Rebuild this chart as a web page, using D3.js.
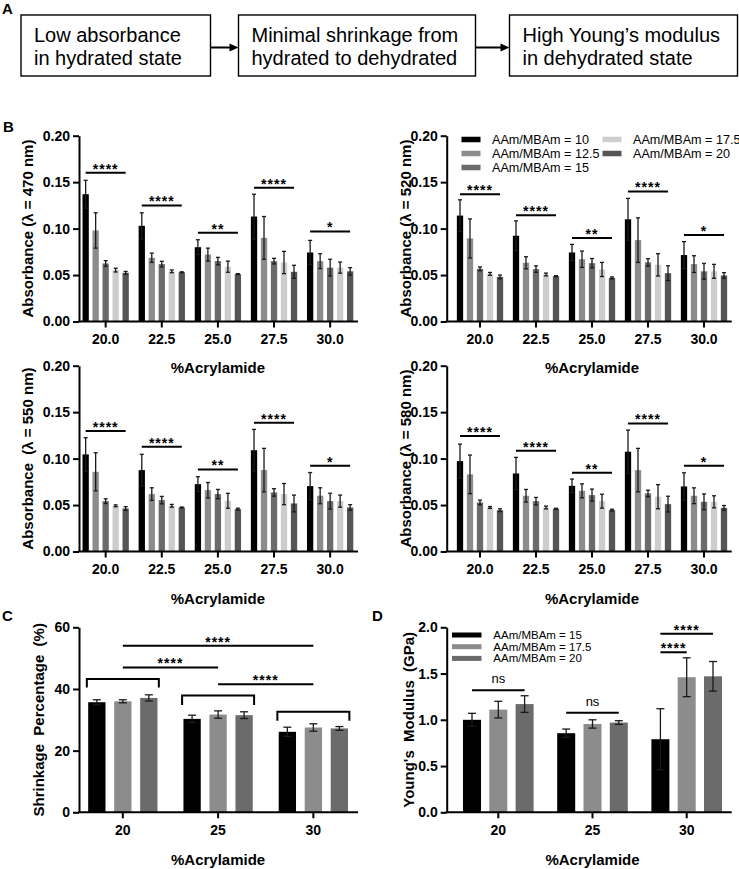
<!DOCTYPE html>
<html><head><meta charset="utf-8">
<script src="https://cdn.jsdelivr.net/npm/d3@7"></script>
<style>body{margin:0;background:#fff}svg{display:block}text{font-family:"Liberation Sans",Arial,sans-serif}</style>
</head><body>
<script>
// ---------------- DATA ----------------
const groupsB = ["20.0","22.5","25.0","27.5","30.0"];
const seriesB = ["AAm/MBAm = 10","AAm/MBAm = 12.5","AAm/MBAm = 15","AAm/MBAm = 17.5","AAm/MBAm = 20"];
const colorsB = ["#000000","#8c8c8c","#6b6b6b","#cdcdcd","#555555"];
const ticksB = [0,0.05,0.10,0.15,0.20];

const abs470 = [[0.137,0.098,0.0625,0.0553,0.0524],[0.103,0.0686,0.0618,0.054,0.053],[0.080,0.072,0.065,0.059,0.051],[0.113,0.090,0.065,0.0635,0.0535],[0.0743,0.065,0.058,0.058,0.054]];
const err470 = [[0.015,0.019,0.003,0.002,0.0015],[0.014,0.005,0.003,0.0015,0.0005],[0.008,0.007,0.004,0.006,0.0005],[0.024,0.023,0.003,0.012,0.007],[0.013,0.008,0.009,0.006,0.004]];
const abs520 = [[0.114,0.0894,0.0567,0.0513,0.048],[0.0923,0.0632,0.0564,0.0506,0.0488],[0.0743,0.067,0.0628,0.056,0.047],[0.110,0.0876,0.0636,0.061,0.052],[0.0715,0.0618,0.054,0.054,0.0496]];
const err520 = [[0.017,0.021,0.002,0.0015,0.002],[0.016,0.0065,0.0035,0.0015,0.0005],[0.0087,0.0088,0.005,0.0076,0.001],[0.0225,0.024,0.004,0.012,0.008],[0.0145,0.009,0.0085,0.0075,0.003]];
const abs550 = [[0.1045,0.0858,0.0542,0.0492,0.0463],[0.0876,0.0618,0.0553,0.0492,0.0474],[0.0725,0.066,0.0618,0.0546,0.0456],[0.109,0.0876,0.0636,0.0618,0.0517],[0.0704,0.060,0.0542,0.0542,0.0474]];
const err550 = [[0.018,0.0205,0.0025,0.001,0.002],[0.017,0.0068,0.004,0.0015,0.0005],[0.008,0.0083,0.005,0.008,0.001],[0.0224,0.0234,0.004,0.0114,0.009],[0.0146,0.0086,0.0085,0.0065,0.003]];
const abs580 = [[0.0973,0.083,0.0528,0.0474,0.0445],[0.084,0.060,0.0542,0.0474,0.046],[0.0707,0.0653,0.0607,0.0542,0.0445],[0.1074,0.0876,0.0625,0.059,0.051],[0.070,0.060,0.0535,0.0535,0.047]];
const err580 = [[0.0183,0.0208,0.0025,0.001,0.0015],[0.0173,0.0068,0.004,0.0015,0.0005],[0.0073,0.0075,0.0065,0.0075,0.001],[0.0233,0.0234,0.0035,0.013,0.0085],[0.0147,0.0085,0.0085,0.0065,0.0025]];
const sigLabelsB = ["****","****","**","****","*"];
const sig470 = [0.160,0.125,0.0955,0.144,0.097];
const sig520 = [0.137,0.1145,0.090,0.140,0.093];
const sig550 = [0.1296,0.1127,0.0883,0.1386,0.0923];
const sig580 = [0.1242,0.1084,0.0847,0.1379,0.0923];

const groupsCD = ["20","25","30"];
const seriesCD = ["AAm/MBAm = 15","AAm/MBAm = 17.5","AAm/MBAm = 20"];
const colorsCD = ["#000000","#8c8c8c","#6b6b6b"];
const shrink = [[35.7,36.0,37.1],[30.3,31.7,31.5],[26.1,27.5,27.2]];
const shrinkErr = [[0.8,0.5,1.0],[1.2,1.2,1.1],[1.5,1.2,0.6]];
const ticksC = [0,20,40,60];
const bracketC = [43.2,37.9,32.6];      // per-group bracket heights
const bracketLegC = [40.5,34.8,29.7];
const sigC = [{a:"20",b:"30",v:54.0,t:"****"},{a:"20",b:"25",v:47.0,t:"****"},{a:"25",b:"30",v:41.5,t:"****"}];

const modulus = [[1.0,1.11,1.17],[0.855,0.955,0.97],[0.79,1.46,1.47]];
const modulusErr = [[0.07,0.09,0.09],[0.045,0.045,0.02],[0.33,0.21,0.16]];
const ticksD = [0,0.5,1.0,1.5,2.0];
const sigD = [{g:"20",a:0,b:2,v:1.32,t:"ns"},{g:"25",a:0,b:2,v:1.077,t:"ns"},{g:"30",a:0,b:2,v:1.93,t:"****"},{g:"30",a:0,b:1,v:1.73,t:"****"}];

const flowText = [["Low absorbance","in hydrated state"],["Minimal shrinkage from","hydrated to dehydrated"],["High Young\u2019s modulus","in dehydrated state"]];

// ---------------- DRAW ----------------
const svg = d3.select("body").append("svg").attr("width",739).attr("height",869);
const FONT = '"Liberation Sans",Arial,sans-serif';
const ERRC = "#1a1a1a";

// Panel A
const boxes = [[21,210.5],[238.5,475.5],[509.5,737.5]];
const A = svg.append("g");
boxes.forEach((b,i)=>{
  A.append("rect").attr("x",b[0]).attr("y",15).attr("width",b[1]-b[0]).attr("height",61)
    .attr("fill","none").attr("stroke","#000").attr("stroke-width",1.4);
  flowText[i].forEach((t,k)=>A.append("text").attr("x",b[0]+13).attr("y",42+k*23).attr("font-size",20).text(t));
  if(i<boxes.length-1){
    const xs=b[1], xe=boxes[i+1][0];
    A.append("line").attr("x1",xs).attr("x2",xe-7).attr("y1",47.5).attr("y2",47.5).attr("stroke","#000").attr("stroke-width",2);
    A.append("path").attr("d",`M${xe},47.5 L${xe-9},43.5 L${xe-9},51.5 Z`).attr("fill","#000");
  }
});

// panel letters
[["A",2,14],["B",3,132],["C",2,621],["D",372,621]].forEach(p=>
  svg.append("text").attr("x",p[1]).attr("y",p[2]).attr("font-size",15).attr("font-weight","bold").text(p[0]));

function panel(c){
  const x = d3.scaleBand().domain(c.groups).range([c.x0,c.x1]);
  const y = d3.scaleLinear().domain([0,c.yMax]).range([c.yBottom,c.yTop]);
  const inner = d3.scalePoint().domain(c.series).range([-c.innerHalf,c.innerHalf]);
  const cx = g => x(g)+x.bandwidth()/2;
  const g = svg.append("g");
  c.groups.forEach((gr,i)=>c.series.forEach((s,j)=>{
    const v=c.values[i][j], e=c.errors[i][j], bx=cx(gr)+inner(s);
    g.append("rect").attr("x",bx-c.barW/2).attr("y",y(v)).attr("width",c.barW).attr("height",y(0)-y(v)).attr("fill",c.colors[j]);
    const eg=g.append("g").attr("stroke",ERRC).attr("stroke-width",1.3);
    eg.append("line").attr("x1",bx).attr("x2",bx).attr("y1",y(v-e)).attr("y2",y(v+e));
    [v-e,v+e].forEach(ev=>eg.append("line").attr("x1",bx-c.capW/2).attr("x2",bx+c.capW/2).attr("y1",y(ev)).attr("y2",y(ev)));
  }));
  // axes
  const ya = g.append("g").attr("transform",`translate(${c.axisX},0)`)
    .call(d3.axisLeft(y).tickValues(c.ticks).tickFormat(c.fmt).tickSize(6).tickSizeOuter(0).tickPadding(3));
  const xa = g.append("g").attr("transform",`translate(0,${c.yBottom})`)
    .call(d3.axisBottom(x).tickSize(6).tickSizeOuter(0).tickPadding(7));
  xa.select(".domain").remove();
  g.append("line").attr("x1",c.axisX-1).attr("x2",c.xEnd).attr("y1",c.yBottom).attr("y2",c.yBottom).attr("stroke","#000").attr("stroke-width",2);
  [ya,xa].forEach(a=>{
    a.selectAll("path,line").attr("stroke","#000").attr("stroke-width",2);
    a.selectAll("text").attr("font-size",14).attr("font-weight","bold").attr("fill","#000").attr("font-family",FONT);
  });
  g.append("text").attr("transform",`translate(${c.titleX},${(c.yBottom+c.yTop)/2}) rotate(-90)`)
    .attr("text-anchor","middle").attr("font-size",15).attr("font-weight","bold").style("white-space","pre").text(c.yTitle);
  g.append("text").attr("x",(c.x0+c.x1)/2).attr("y",c.xTitleY).attr("text-anchor","middle")
    .attr("font-size",15).attr("font-weight","bold").text("%Acrylamide");
  return {x,y,inner,cx,g};
}

function sigLine(g,x1,x2,yy,label){
  g.append("line").attr("x1",x1).attr("x2",x2).attr("y1",yy).attr("y2",yy).attr("stroke","#000").attr("stroke-width",2);
  if(label==="ns"){
    g.append("text").attr("x",(x1+x2)/2).attr("y",yy-7).attr("text-anchor","middle").attr("font-size",13).text(label);
  } else {
    g.append("text").attr("x",(x1+x2)/2).attr("y",yy+1).attr("text-anchor","middle").attr("font-size",14)
      .attr("font-weight","bold").attr("letter-spacing",1).text(label);
  }
}

const bCfg = [
  {values:abs470,errors:err470,sig:sig470,left:true,top:true,title:"Absorbance (\u03bb = 470 nm)"},
  {values:abs520,errors:err520,sig:sig520,left:false,top:true,title:"Absorbance (\u03bb = 520 nm)"},
  {values:abs550,errors:err550,sig:sig550,left:true,top:false,title:"Absorbance  (\u03bb = 550 nm)"},
  {values:abs580,errors:err580,sig:sig580,left:false,top:false,title:"Absorbance (\u03bb = 580 nm)"}
];
bCfg.forEach(b=>{
  const p = panel({groups:groupsB,series:seriesB,values:b.values,errors:b.errors,colors:colorsB,
    x0:b.left?77.6:452, x1:b.left?358.2:732, axisX:b.left?79:446.7, xEnd:b.left?358:731.7,
    yBottom:b.top?321.5:551.5, yTop:b.top?135.7:365.7, yMax:0.2, ticks:ticksB, fmt:d3.format(".2f"),
    barW:6.3, innerHalf:20, capW:4, titleX:b.left?33:410.5, xTitleY:b.top?373:604, yTitle:b.title});
  groupsB.forEach((gr,i)=>sigLine(p.g,p.cx(gr)+p.inner(seriesB[0]),p.cx(gr)+p.inner(seriesB[4]),p.y(b.sig[i]),sigLabelsB[i]));
  if(!b.left && b.top){
    const lg=p.g.append("g");
    seriesB.forEach((s,j)=>{
      const col=j<3?0:1, row=j<3?j:j-3;
      const lx=col===0?461.5:602.5, ly=139.5+row*14;
      lg.append("rect").attr("x",lx).attr("y",ly-2.75).attr("width",19).attr("height",5.5).attr("fill",colorsB[j]);
      lg.append("text").attr("x",lx+30.5).attr("y",ly).attr("dy","0.35em").attr("font-size",12.6).text(s);
    });
  }
});

// Panel C
const pc = panel({groups:groupsCD,series:seriesCD,values:shrink,errors:shrinkErr,colors:colorsCD,
  x0:75.2,x1:361,axisX:79,xEnd:358,yBottom:812.3,yTop:627.3,yMax:60,ticks:ticksC,fmt:d3.format("d"),
  barW:17.3,innerHalf:26,capW:8,titleX:44,xTitleY:865,yTitle:"Shrinkage  Percentage  (%)"});
groupsCD.forEach((gr,i)=>{
  const l=pc.cx(gr)-36, r=pc.cx(gr)+36;
  pc.g.append("path").attr("d",`M${l},${pc.y(bracketLegC[i])} V${pc.y(bracketC[i])} H${r} V${pc.y(bracketLegC[i])}`)
    .attr("fill","none").attr("stroke","#000").attr("stroke-width",2);
});
sigC.forEach(s=>sigLine(pc.g,pc.cx(s.a),pc.cx(s.b),pc.y(s.v),s.t));

// Panel D
const pd = panel({groups:groupsCD,series:seriesCD,values:modulus,errors:modulusErr,colors:colorsCD,
  x0:451.2,x1:733.8,axisX:446.7,xEnd:731.7,yBottom:812.3,yTop:627.3,yMax:2,ticks:ticksD,fmt:d3.format(".1f"),
  barW:18,innerHalf:26.3,capW:8,titleX:414,xTitleY:865,yTitle:"Young's  Modulus  (GPa)"});
sigD.forEach(s=>sigLine(pd.g,pd.cx(s.g)+pd.inner(seriesCD[s.a]),pd.cx(s.g)+pd.inner(seriesCD[s.b]),pd.y(s.v),s.t));
seriesCD.forEach((s,j)=>{
  const ly=635+j*11.7;
  pd.g.append("rect").attr("x",452).attr("y",ly-2.5).attr("width",29.5).attr("height",5).attr("fill",colorsCD[j]);
  pd.g.append("text").attr("x",493.3).attr("y",ly).attr("dy","0.35em").attr("font-size",11.5).text(s);
});
</script>
</body></html>
